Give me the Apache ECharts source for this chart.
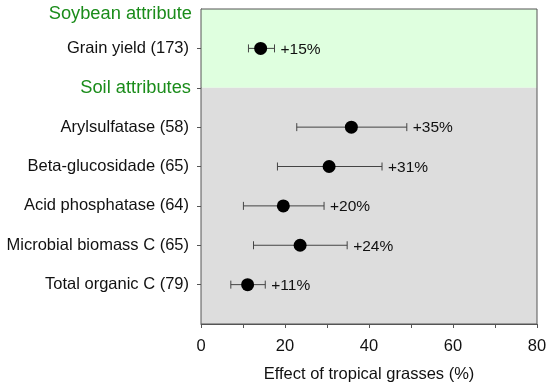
<!DOCTYPE html>
<html>
<head>
<meta charset="utf-8">
<script src="https://cdn.jsdelivr.net/npm/echarts@6/dist/echarts.min.js"></script>
<style>html,body{margin:0;padding:0;background:#fff}#c{width:550px;height:388px}</style>
</head>
<body>
<div id="c"></div>
<script>
// categories from bottom to top
var categories = ['', 'Total organic C (79)', 'Microbial biomass C (65)', 'Acid phosphatase (64)', 'Beta-glucosidade (65)', 'Arylsulfatase (58)', 'Soil attributes', 'Grain yield (173)', 'Soybean attribute'];
var headers = ['Soil attributes', 'Soybean attribute'];
var pointCats = ['Total organic C (79)', 'Microbial biomass C (65)', 'Acid phosphatase (64)', 'Beta-glucosidade (65)', 'Arylsulfatase (58)', 'Grain yield (173)'];
var effect = [11.1, 23.6, 19.6, 30.5, 35.8, 14.2];
var lower = [7.1, 12.5, 10.1, 18.2, 22.8, 11.3];
var upper = [15.3, 34.8, 29.3, 43.1, 49.0, 17.5];
var labels = ['+11%', '+24%', '+20%', '+31%', '+35%', '+15%'];
var xTicks = [0, 20, 40, 60, 80];

var FONT = 'Liberation Sans, Arial, sans-serif';
var chart = echarts.init(document.getElementById('c'));

var errData = pointCats.map(function (c, i) { return [lower[i], upper[i], c, labels[i]]; });
var ptData = pointCats.map(function (c, i) { return [effect[i], c]; });

chart.setOption({
  animation: false,
  grid: { left: 201, right: 13, top: 9, bottom: 64, show: true, borderColor: '#555', borderWidth: 1, z: 10 },
  xAxis: {
    type: 'value', min: 0, max: 80, interval: 10,
    axisLine: { show: true, lineStyle: { color: '#555' } },
    axisTick: { show: true, length: 4, lineStyle: { color: '#555' } },
    splitLine: { show: false },
    axisLabel: {
      fontFamily: FONT, fontSize: 16.5, color: '#111', margin: 14,
      formatter: function (v) { return xTicks.indexOf(v) >= 0 ? String(v) : ''; }
    },
    name: 'Effect of tropical grasses (%)', nameLocation: 'middle', nameGap: 42,
    nameTextStyle: { fontFamily: FONT, fontSize: 16.5, color: '#111' }
  },
  yAxis: {
    type: 'category', data: categories, boundaryGap: false,
    axisLine: { show: true, lineStyle: { color: '#555' } },
    axisTick: { show: true, length: 4, alignWithLabel: true, lineStyle: { color: '#555' }, interval: function (i) { return i > 0 && i < categories.length - 1; } },
    splitLine: { show: false },
    axisLabel: {
      interval: 0, margin: 9,
      formatter: function (v) {
        if (v === 'Soybean attribute') return '{h2|' + v + '}';
        if (headers.indexOf(v) >= 0) return '{h|' + v + '}';
        return '{n|' + v + '}';
      },
      rich: {
        n: { fontFamily: FONT, fontSize: 16.5, color: '#111', padding: [0, 3, 0, 0] },
        h: { fontFamily: FONT, fontSize: 18.3, color: '#1a8c1a', padding: [0, 1, 0, 0] },
        h2: { fontFamily: FONT, fontSize: 18.3, color: '#1a8c1a', padding: [9, 0, 0, 0] }
      }
    }
  },
  series: [
    {
      type: 'custom',
      data: errData,
      encode: { x: [0, 1], y: 2 },
      z: 3,
      renderItem: function (params, api) {
        var lo = api.coord([api.value(0), api.value(2)]);
        var hi = api.coord([api.value(1), api.value(2)]);
        var y = lo[1];
        var st = { stroke: '#444', lineWidth: 1 };
        var cap = 4;
        return {
          type: 'group',
          children: [
            { type: 'line', shape: { x1: lo[0], y1: y, x2: hi[0], y2: y }, style: st },
            { type: 'line', shape: { x1: lo[0], y1: y - cap, x2: lo[0], y2: y + cap }, style: st },
            { type: 'line', shape: { x1: hi[0], y1: y - cap, x2: hi[0], y2: y + cap }, style: st },
            { type: 'text', x: hi[0] + 6, y: y + 1, style: { text: errData[params.dataIndex][3], fontFamily: FONT, fontSize: 15.5, fill: '#111', align: 'left', verticalAlign: 'middle' } }
          ]
        };
      }
    },
    {
      type: 'scatter',
      data: ptData,
      symbol: 'circle', symbolSize: 13,
      itemStyle: { color: '#000', opacity: 1 },
      z: 4,
      markArea: {
        silent: true,
        data: [
          [{ yAxis: 'Soil attributes', itemStyle: { color: '#dfffdf', opacity: 1 } }, { yAxis: 'Soybean attribute' }],
          [{ yAxis: '', itemStyle: { color: '#dddddd', opacity: 1 } }, { yAxis: 'Soil attributes' }]
        ]
      }
    }
  ]
});
</script>
</body>
</html>
